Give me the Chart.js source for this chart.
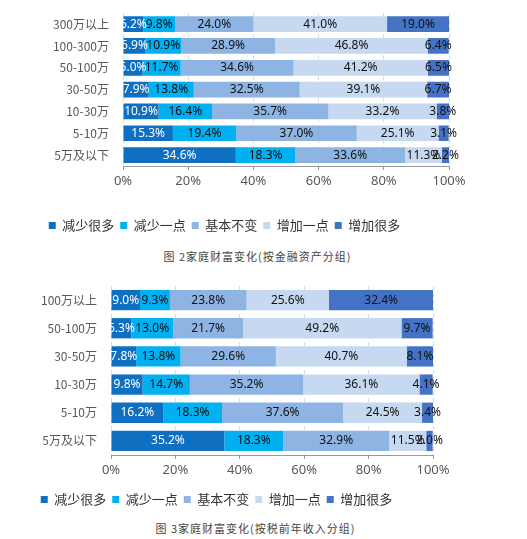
<!DOCTYPE html>
<html><head><meta charset="utf-8">
<script src="https://cdn.jsdelivr.net/npm/chart.js@4/dist/chart.umd.min.js"></script>
<style>
body{margin:0;background:#fff;width:527px;height:539px;position:relative;overflow:hidden;font-family:"Noto Sans CJK SC",sans-serif}
canvas{position:absolute;left:0}
.cap{position:absolute;width:527px;text-align:center;font-size:11px;color:#444;letter-spacing:1px;font-family:"Noto Sans CJK SC",serif}
</style></head><body>
<canvas id="c1" style="top:0"></canvas>
<div class="cap" style="top:248px;left:-6px">图 2家庭财富变化(按金融资产分组)</div>
<canvas id="c2" style="top:270px"></canvas>
<div class="cap" style="top:520px;left:-8px">图 3家庭财富变化(按税前年收入分组)</div>
<script>
const seriesNames=["减少很多","减少一点","基本不变","增加一点","增加很多"];
const colors=["#0F6FC1","#00B0F0","#8EB4E3","#C6D9F1","#4472C4"];
const cats1=["300万以上","100-300万","50-100万","30-50万","10-30万","5-10万","5万及以下"];
const s1a=[6.2,6.9,6.0,7.9,10.9,15.3,34.6];
const s1b=[9.8,10.9,11.7,13.8,16.4,19.4,18.3];
const s1c=[24.0,28.9,34.6,32.5,35.7,37.0,33.6];
const s1d=[41.0,46.8,41.2,39.1,33.2,25.1,11.3];
const s1e=[19.0,6.4,6.5,6.7,3.8,3.1,2.2];
const cats2=["100万以上","50-100万","30-50万","10-30万","5-10万","5万及以下"];
const s2a=[9.0,6.3,7.8,9.8,16.2,35.2];
const s2b=[9.3,13.0,13.8,14.7,18.3,18.3];
const s2c=[23.8,21.7,29.6,35.2,37.6,32.9];
const s2d=[25.6,49.2,40.7,36.1,24.5,11.5];
const s2e=[32.4,9.7,8.1,4.1,3.4,2.0];
const ticks=["0%","20%","40%","60%","80%","100%"];

const labelPlugin={id:'lbl',afterDatasetsDraw(ch){
  const ctx=ch.ctx;ctx.save();ctx.font='12px "Noto Sans","DejaVu Sans",sans-serif';ctx.textAlign='center';ctx.textBaseline='middle';
  ch.data.datasets.forEach((ds,i)=>{ch.getDatasetMeta(i).data.forEach((b,j)=>{
    const x=(b.x+b.base)/2;ctx.fillStyle=i==0?'#fff':'#111';
    ctx.fillText(ds.data[j].toFixed(1)+'%',x,b.y);});});
  ctx.restore();}};

function make(id,h,cats,series,left,right,top,bottom,thick){
  const cv=document.getElementById(id);cv.width=527;cv.height=h;cv.style.width='527px';cv.style.height=h+'px';
  new Chart(cv,{type:'bar',
    data:{labels:cats,datasets:series.map((d,i)=>({label:seriesNames[i],data:d,backgroundColor:colors[i],barThickness:thick}))},
    options:{indexAxis:'y',responsive:false,animation:false,devicePixelRatio:1,
      layout:{padding:{left:0,right:right,top:top,bottom:0}},
      scales:{
        x:{stacked:true,min:0,max:100,
          afterFit(s){s.height=h-top-bottom;},
          grid:{color:'#d9d9d9',drawTicks:true,tickLength:4,tickColor:'#999'},
          border:{dash:[4,3],color:'#999'},
          ticks:{stepSize:20,color:'#595959',font:{size:13,family:'"Noto Sans",sans-serif'},callback:(v,i)=>ticks[i],padding:3}},
        y:{stacked:true,afterFit(s){s.width=left;},grid:{display:false},border:{display:false},
          ticks:{color:'#595959',font:{size:12,family:'"Noto Sans CJK SC",sans-serif'},padding:6}}},
      plugins:{tooltip:{enabled:false},
        legend:{position:'bottom',labels:{boxWidth:7,boxHeight:7,padding:6,color:'#333',font:{size:13,family:'"Noto Sans CJK SC",sans-serif'}}}}},
    plugins:[labelPlugin]});
}
make('c1',242,cats1,[s1a,s1b,s1c,s1d,s1e],123,78,7,188);
make('c2',246,cats2,[s2a,s2b,s2c,s2d,s2e],111,94,16,198);
</script></body></html>
